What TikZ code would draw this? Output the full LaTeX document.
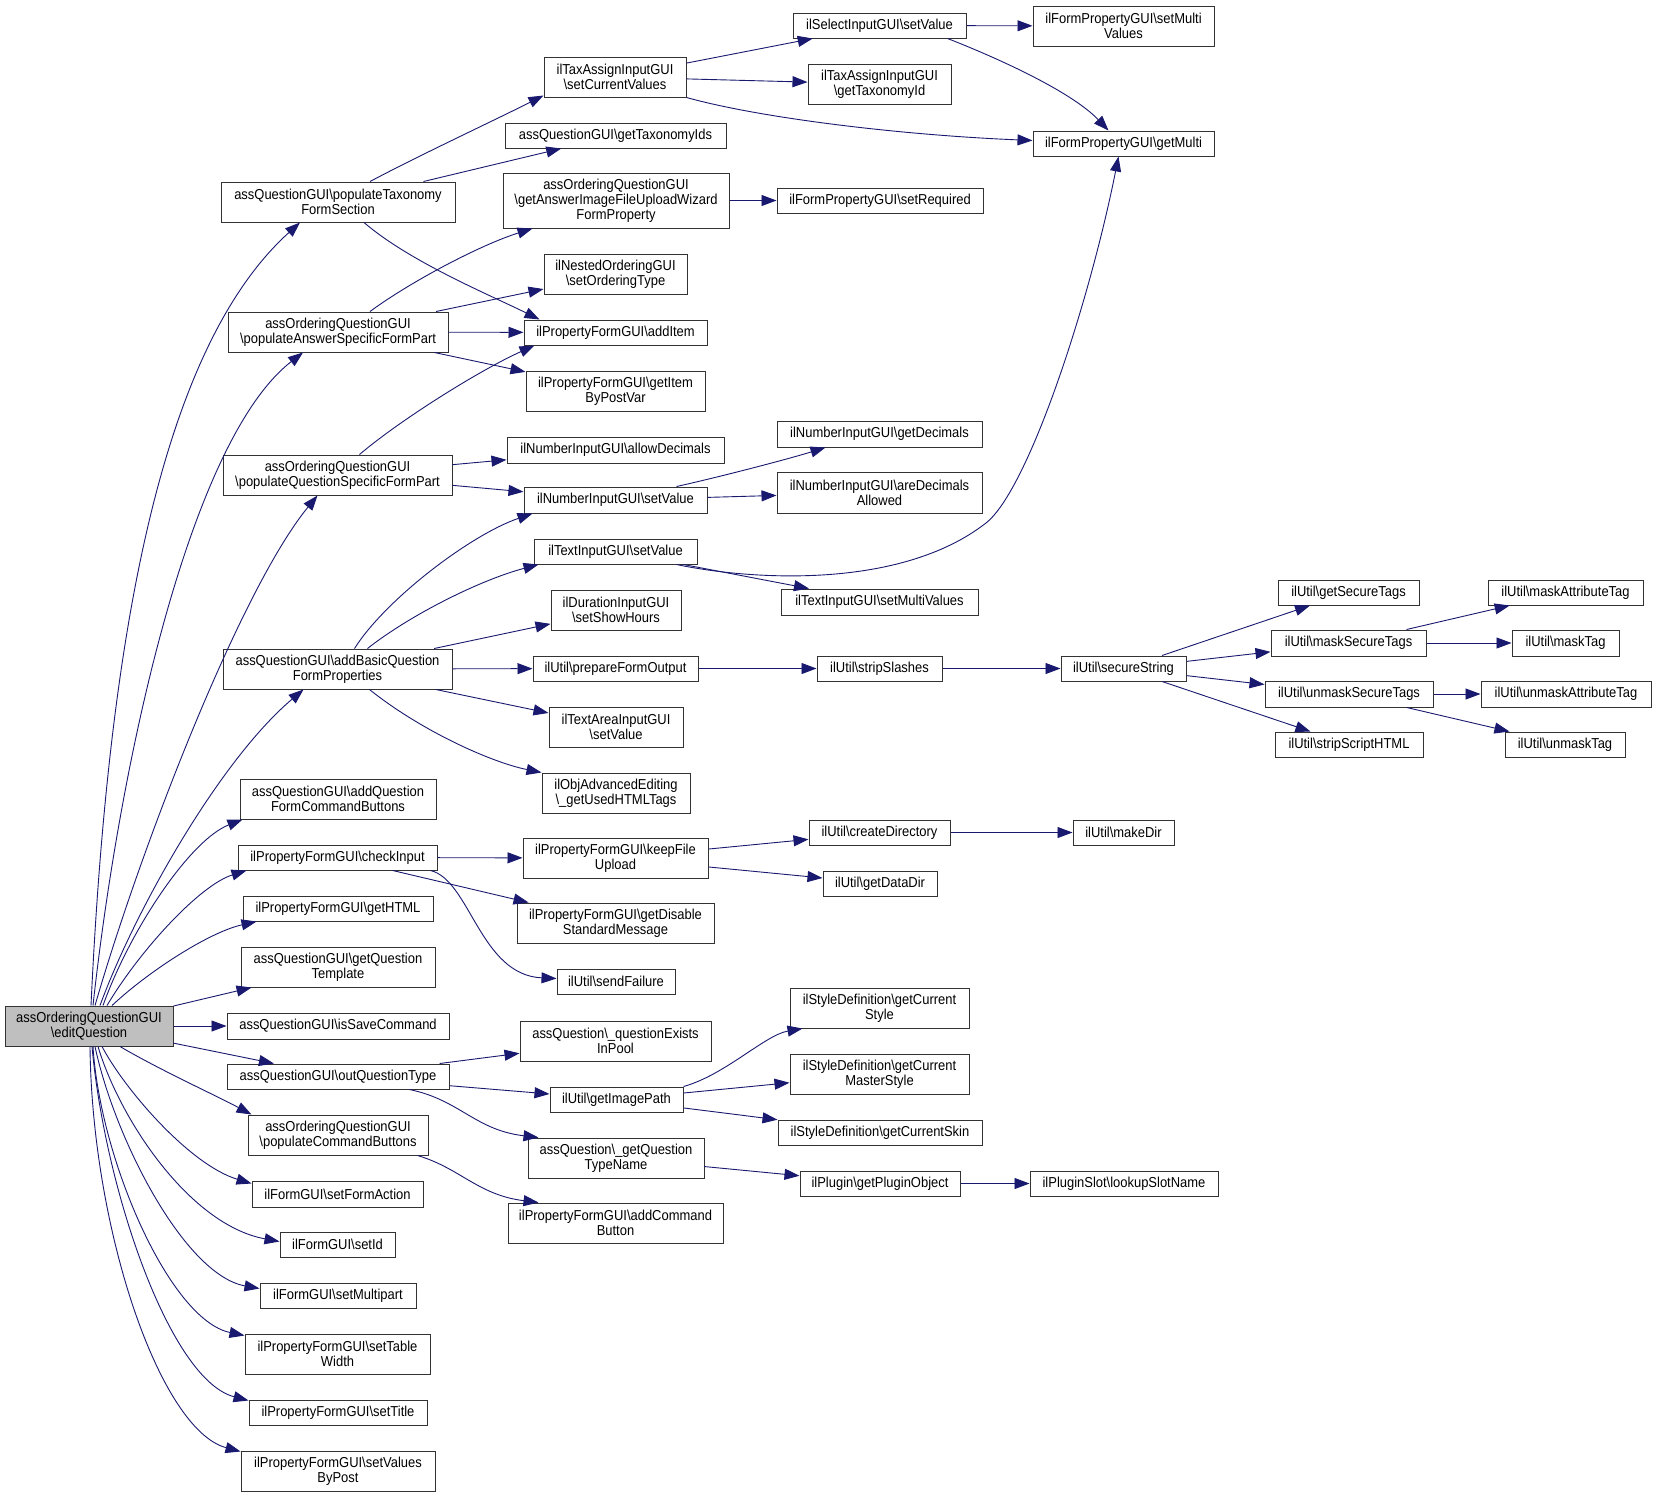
\documentclass[tikz,border=0pt]{standalone}
\usepackage{fontspec}
\setmainfont{Liberation Sans}[FakeStretch=0.9]
\usetikzlibrary{arrows.meta,calc}
\definecolor{edgeblue}{HTML}{191970}
\definecolor{boxline}{HTML}{333333}
\definecolor{mainfill}{HTML}{BFBFBF}
\newcommand\BSL{\textbackslash}
\tikzset{
  box/.style={draw=boxline, line width=1pt, inner sep=0pt, align=center, fill=white,
    font=\fontsize{14.4}{15}\selectfont},
  lnk/.style={draw=edgeblue, line width=0.9pt, -{Triangle[length=15pt,width=11pt,fill=edgeblue]}}
}
\newcommand\bx[7][]{%
  \pgfmathsetmacro\bxcx{(#3+#5)/2}\pgfmathsetmacro\bxcy{(#4+#6)/2}%
  \pgfmathsetmacro\bxw{#5-#3}\pgfmathsetmacro\bxh{#6-#4}%
  \node[box,#1,minimum width=\bxw pt,minimum height=\bxh pt] (#2) at (\bxcx,\bxcy) {#7};}
\begin{document}
\begin{tikzpicture}[x=1pt,y=-1pt]
\fill[white] (0,0) rectangle (1656,1497);
\useasboundingbox (0,0) rectangle (1656,1497);
% column 1
\bx[fill=mainfill]{E}{5}{1006}{173}{1046}{assOrderingQuestionGUI\\\BSL editQuestion}
% column 2
\bx{PTF}{221}{182}{455}{222}{assQuestionGUI\BSL populateTaxonomy\\FormSection}
\bx{PAS}{228}{312}{448}{352}{assOrderingQuestionGUI\\\BSL populateAnswerSpecificFormPart}
\bx{PQS}{223}{455}{452}{495}{assOrderingQuestionGUI\\\BSL populateQuestionSpecificFormPart}
\bx{ABQ}{223}{649}{452}{689}{assQuestionGUI\BSL addBasicQuestion\\FormProperties}
\bx{AQF}{240}{779}{436}{819}{assQuestionGUI\BSL addQuestion\\FormCommandButtons}
\bx{CI}{238}{845}{437}{870}{ilPropertyFormGUI\BSL checkInput}
\bx{GH}{243}{896}{433}{921}{ilPropertyFormGUI\BSL getHTML}
\bx{GQT}{241}{947}{435}{987}{assQuestionGUI\BSL getQuestion\\Template}
\bx{ISC}{227}{1013}{449}{1039}{assQuestionGUI\BSL isSaveCommand}
\bx{OQT}{227}{1064}{449}{1089}{assQuestionGUI\BSL outQuestionType}
\bx{PCB}{248}{1115}{428}{1155}{assOrderingQuestionGUI\\\BSL populateCommandButtons}
\bx{SFA}{252}{1181}{423}{1207}{ilFormGUI\BSL setFormAction}
\bx{SID}{280}{1232}{395}{1257}{ilFormGUI\BSL setId}
\bx{SMP}{260}{1283}{416}{1308}{ilFormGUI\BSL setMultipart}
\bx{STW}{245}{1334}{430}{1374}{ilPropertyFormGUI\BSL setTable\\Width}
\bx{STT}{249}{1400}{427}{1425}{ilPropertyFormGUI\BSL setTitle}
\bx{SVP}{241}{1451}{435}{1491}{ilPropertyFormGUI\BSL setValues\\ByPost}
% column 3
\bx{SCV}{544}{57}{686}{97}{ilTaxAssignInputGUI\\\BSL setCurrentValues}
\bx{GTI}{505}{123}{726}{148}{assQuestionGUI\BSL getTaxonomyIds}
\bx{GAI}{503}{173}{729}{228}{assOrderingQuestionGUI\\\BSL getAnswerImageFileUploadWizard\\FormProperty}
\bx{SOT}{544}{254}{687}{294}{ilNestedOrderingGUI\\\BSL setOrderingType}
\bx{AI}{524}{320}{707}{345}{ilPropertyFormGUI\BSL addItem}
\bx{GIB}{526}{371}{705}{411}{ilPropertyFormGUI\BSL getItem\\ByPostVar}
\bx{AD}{507}{437}{724}{463}{ilNumberInputGUI\BSL allowDecimals}
\bx{NSV}{524}{487}{707}{513}{ilNumberInputGUI\BSL setValue}
\bx{TSV}{534}{539}{697}{564}{ilTextInputGUI\BSL setValue}
\bx{SSH}{551}{590}{681}{630}{ilDurationInputGUI\\\BSL setShowHours}
\bx{PFO}{533}{656}{698}{681}{ilUtil\BSL prepareFormOutput}
\bx{TASV}{549}{707}{683}{747}{ilTextAreaInputGUI\\\BSL setValue}
\bx{GUH}{542}{773}{690}{813}{ilObjAdvancedEditing\\\BSL\_getUsedHTMLTags}
\bx{KFU}{523}{838}{708}{878}{ilPropertyFormGUI\BSL keepFile\\Upload}
\bx{GDS}{517}{903}{714}{943}{ilPropertyFormGUI\BSL getDisable\\StandardMessage}
\bx{SF}{557}{969}{675}{994}{ilUtil\BSL sendFailure}
\bx{QEP}{520}{1021}{711}{1061}{assQuestion\BSL\_questionExists\\InPool}
\bx{GIP}{550}{1087}{683}{1112}{ilUtil\BSL getImagePath}
\bx{GQTN}{528}{1138}{704}{1178}{assQuestion\BSL\_getQuestion\\TypeName}
\bx{ACB}{508}{1203}{723}{1243}{ilPropertyFormGUI\BSL addCommand\\Button}
% column 4
\bx{SSV}{793}{13}{966}{38}{ilSelectInputGUI\BSL setValue}
\bx{GTX}{808}{64}{951}{104}{ilTaxAssignInputGUI\\\BSL getTaxonomyId}
\bx{SR}{777}{188}{983}{213}{ilFormPropertyGUI\BSL setRequired}
\bx{GD}{777}{421}{982}{447}{ilNumberInputGUI\BSL getDecimals}
\bx{ADA}{777}{472}{982}{513}{ilNumberInputGUI\BSL areDecimals\\Allowed}
\bx{TSMV}{781}{589}{978}{615}{ilTextInputGUI\BSL setMultiValues}
\bx{SS}{817}{656}{942}{681}{ilUtil\BSL stripSlashes}
\bx{CD}{809}{820}{950}{845}{ilUtil\BSL createDirectory}
\bx{GDD}{823}{871}{937}{896}{ilUtil\BSL getDataDir}
\bx{GCS}{790}{988}{969}{1028}{ilStyleDefinition\BSL getCurrent\\Style}
\bx{GCMS}{790}{1054}{969}{1094}{ilStyleDefinition\BSL getCurrent\\MasterStyle}
\bx{GCSK}{778}{1120}{982}{1145}{ilStyleDefinition\BSL getCurrentSkin}
\bx{GPO}{800}{1171}{960}{1196}{ilPlugin\BSL getPluginObject}
% column 5
\bx{SMV}{1033}{6}{1214}{46}{ilFormPropertyGUI\BSL setMulti\\Values}
\bx{GM}{1033}{131}{1214}{156}{ilFormPropertyGUI\BSL getMulti}
\bx{SEC}{1061}{656}{1186}{681}{ilUtil\BSL secureString}
\bx{MD}{1073}{820}{1174}{845}{ilUtil\BSL makeDir}
\bx{LSN}{1030}{1171}{1218}{1196}{ilPluginSlot\BSL lookupSlotName}
% column 6
\bx{GST}{1278}{580}{1419}{605}{ilUtil\BSL getSecureTags}
\bx{MST}{1271}{630}{1426}{656}{ilUtil\BSL maskSecureTags}
\bx{UST}{1265}{681}{1433}{707}{ilUtil\BSL unmaskSecureTags}
\bx{SSHTML}{1275}{732}{1423}{757}{ilUtil\BSL stripScriptHTML}
% column 7
\bx{MAT}{1488}{580}{1643}{605}{ilUtil\BSL maskAttributeTag}
\bx{MT}{1512}{630}{1619}{656}{ilUtil\BSL maskTag}
\bx{UAT}{1481}{681}{1651}{707}{ilUtil\BSL unmaskAttributeTag}
\bx{UT}{1505}{732}{1625}{757}{ilUtil\BSL unmaskTag}
\coordinate (tb) at (986,523);
% straight edges
\draw[lnk] (E) -- (GQT);
\draw[lnk] (E) -- (ISC);
\draw[lnk] (E) -- (OQT);
\draw[lnk] (PTF) -- (GTI);
\draw[lnk] (SCV) -- (SSV);
\draw[lnk] (SCV) -- (GTX);
\draw[lnk] (SSV) -- (SMV);
\draw[lnk] (PAS) -- (SOT);
\draw[lnk] (PAS) -- (AI);
\draw[lnk] (PAS) -- (GIB);
\draw[lnk] (GAI) -- (SR);
\draw[lnk] (PQS) -- (AD);
\draw[lnk] (PQS) -- (NSV);
\draw[lnk] (NSV) -- (ADA);
\draw[lnk] (TSV) -- (TSMV);
\draw[lnk] (ABQ) -- (SSH);
\draw[lnk] (ABQ) -- (PFO);
\draw[lnk] (ABQ) -- (TASV);
\draw[lnk] (PFO) -- (SS);
\draw[lnk] (SS) -- (SEC);
\draw[lnk] (SEC) -- (GST);
\draw[lnk] (SEC) -- (MST);
\draw[lnk] (SEC) -- (UST);
\draw[lnk] (SEC) -- (SSHTML);
\draw[lnk] (MST) -- (MAT);
\draw[lnk] (MST) -- (MT);
\draw[lnk] (UST) -- (UAT);
\draw[lnk] (UST) -- (UT);
\draw[lnk] (CI) -- (KFU);
\draw[lnk] (CI) -- (GDS);
\draw[lnk] (KFU) -- (CD);
\draw[lnk] (KFU) -- (GDD);
\draw[lnk] (CD) -- (MD);
\draw[lnk] (OQT) -- (QEP);
\draw[lnk] (OQT) -- (GIP);
\draw[lnk] (GIP) -- (GCMS);
\draw[lnk] (GIP) -- (GCSK);
\draw[lnk] (GQTN) -- (GPO);
\draw[lnk] (GPO) -- (LSN);
% curved edges from the main node
\draw[lnk] ($(E.north)+(2,0)$) .. controls (110,600) and (170,340) .. ($(PTF.south)+(-38,0)$);
\draw[lnk] ($(E.north)+(4,0)$) .. controls (120,760) and (190,440) .. ($(PAS.south)+(-35,0)$);
\draw[lnk] ($(E.north)+(6,0)$) .. controls (140,850) and (240,590) .. ($(PQS.south)+(-20,0)$);
\draw[lnk] ($(E.north)+(11,0)$) .. controls (135,910) and (220,760) .. ($(ABQ.south)+(-34,0)$);
\draw[lnk] ($(E.north)+(14,0)$) .. controls (130,930) and (190,840) .. ($(AQF.south west)+(3,0)$);
\draw[lnk] ($(E.north)+(18,0)$) .. controls (140,950) and (200,885) .. ($(CI.south west)+(9,0)$);
\draw[lnk] ($(E.north)+(23,0)$) .. controls (150,970) and (210,932) .. ($(GH.south west)+(14,0)$);
\draw[lnk] ($(E.south)+(31,0)$) .. controls (160,1070) and (215,1095) .. ($(PCB.north west)+(4,0)$);
\draw[lnk] ($(E.south)+(13,0)$) .. controls (125,1090) and (190,1165) .. ($(SFA.north west)+(0,3)$);
\draw[lnk] ($(E.south)+(9,0)$) .. controls (120,1120) and (190,1225) .. ($(SID.west)+(0,-3)$);
\draw[lnk] ($(E.south)+(6,0)$) .. controls (115,1140) and (185,1275) .. ($(SMP.north west)+(0,6)$);
\draw[lnk] ($(E.south)+(4,0)$) .. controls (100,1160) and (170,1320) .. ($(STW.north west)+(0,2)$);
\draw[lnk] ($(E.south)+(3,0)$) .. controls (105,1190) and (170,1380) .. ($(STT.north west)+(0,1)$);
\draw[lnk] ($(E.south)+(1,0)$) .. controls (92,1230) and (160,1430) .. ($(SVP.north west)+(0,1)$);
% other curved edges
\draw[lnk] ($(PTF.north)+(32,0)$) .. controls (420,155) and (495,120) .. ($(SCV.south west)+(0,-2)$);
\draw[lnk] ($(PTF.south)+(26,0)$) .. controls (410,262) and (490,295) .. ($(AI.north west)+(16,0)$);
\draw[lnk] (SCV.south east) .. controls (760,118) and (900,135) .. ($(GM.west)+(0,-3)$);
\draw[lnk] ($(SSV.south east)+(-19,0)$) .. controls (990,55) and (1070,90) .. ($(GM.north)+(-15,0)$);
\draw[lnk] ($(TSV.south east)+(-21,0)$) .. controls (750,580) and (900,590) .. (tb) .. controls (1029,489) and (1090,300) .. ($(GM.south)+(-5,0)$);
\draw[lnk] ($(PAS.north)+(32,0)$) .. controls (410,282) and (480,245) .. ($(GAI.south west)+(30,0)$);
\draw[lnk] ($(PQS.north)+(22,0)$) .. controls (400,420) and (480,370) .. ($(AI.south west)+(11,0)$);
\draw[lnk] ($(NSV.north east)+(-31,0)$) .. controls (715,478) and (785,460) .. ($(GD.south west)+(49,0)$);
\draw[lnk] ($(ABQ.north)+(17,0)$) .. controls (385,600) and (470,535) .. ($(NSV.south west)+(9,0)$);
\draw[lnk] ($(ABQ.north)+(30,0)$) .. controls (410,615) and (480,580) .. ($(TSV.south west)+(5,0)$);
\draw[lnk] ($(ABQ.south)+(32,0)$) .. controls (420,730) and (490,762) .. (GUH.north west);
\draw[lnk] ($(CI.south east)+(-7,0)$) .. controls (470,880) and (480,975) .. ($(SF.west)+(0,-3)$);
\draw[lnk] ($(OQT.south east)+(-40,0)$) .. controls (460,1100) and (475,1130) .. ($(GQTN.north west)+(11,0)$);
\draw[lnk] ($(PCB.south east)+(-11,0)$) .. controls (460,1168) and (478,1195) .. ($(ACB.north west)+(31,0)$);
\draw[lnk] (GIP.north east) .. controls (725,1075) and (765,1035) .. ($(GCS.south west)+(13,0)$);
\end{tikzpicture}
\end{document}
